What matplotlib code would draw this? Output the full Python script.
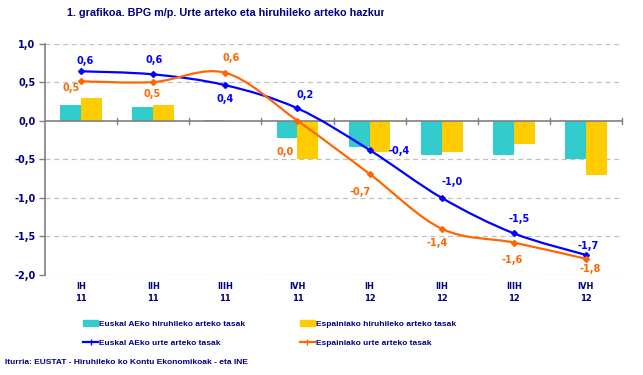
import matplotlib
matplotlib.use("Agg")
import matplotlib.pyplot as plt
import numpy as np
from matplotlib.path import Path
from matplotlib.patches import PathPatch, Patch
from matplotlib.lines import Line2D
from matplotlib.transforms import Bbox

# ---- data ----
quarters = ["IH", "IIH", "IIIH", "IVH", "IH", "IIH", "IIIH", "IVH"]
years = ["11", "11", "11", "11", "12", "12", "12", "12"]
eus_quarterly = [0.2, 0.18, 0.01, -0.23, -0.34, -0.44, -0.45, -0.5]
esp_quarterly = [0.3, 0.2, 0.0, -0.5, -0.4, -0.4, -0.3, -0.7]
eus_annual = [0.64, 0.6, 0.46, 0.16, -0.38, -1.0, -1.46, -1.74]
esp_annual = [0.51, 0.5, 0.62, 0.0, -0.69, -1.4, -1.58, -1.79]
eus_labels = ["0,6", "0,6", "0,4", "0,2", "-0,4", "-1,0", "-1,5", "-1,7"]
esp_labels = ["0,5", "0,5", "0,6", "0,0", "-0,7", "-1,4", "-1,6", "-1,8"]
yticks = [1.0, 0.5, 0.0, -0.5, -1.0, -1.5, -2.0]
ytick_labels = ["1,0", "0,5", "0,0", "-0,5", "-1,0", "-1,5", "-2,0"]

# label offsets in pixels (dx, dy; dy positive = down)
eus_off = [(4, -10), (1, -14), (0, 14), (8, -13), (30, 1), (10, -16), (5, -14), (2, -9)]
esp_off = [(-10, 7), (-1, 12), (6, -15), (-12, 31), (-9, 18), (-5, 14), (-2, 17), (4, 10)]

NAVY = "#000080"
CYAN = "#33CCCC"
YELLOW = "#FFCC00"
BLUE = "#0000FF"
ORANGE = "#FF6600"
FS = 7
NARROW = ['Liberation Sans', 'DejaVu Sans']

plt.rcParams['font.family'] = ['DejaVu Sans']
fig = plt.figure(figsize=(6.43, 3.75), dpi=100)
ax = fig.add_axes([45/643, 1-275/375, 577/643, (275-43.5)/375])

n = len(quarters)
x = np.arange(n)
w = 0.29
ax.bar(x - w/2, eus_quarterly, width=w, color=CYAN, zorder=2)
ax.bar(x + w/2, esp_quarterly, width=w, color=YELLOW, zorder=2)


def smooth_path(xs, ys):
    pts = np.column_stack([xs, ys]).astype(float)
    verts = [pts[0]]
    codes = [Path.MOVETO]
    m = len(pts)
    for i in range(m - 1):
        p0 = pts[i - 1] if i > 0 else pts[i]
        p1 = pts[i]
        p2 = pts[i + 1]
        p3 = pts[i + 2] if i + 2 < m else pts[i + 1]
        c1 = p1 + (p2 - p0) / 6.0
        c2 = p2 - (p3 - p1) / 6.0
        verts += [c1, c2, p2]
        codes += [Path.CURVE4] * 3
    return Path(verts, codes)


for ys, col in [(eus_annual, BLUE), (esp_annual, ORANGE)]:
    pp = PathPatch(smooth_path(x, ys), facecolor='none', edgecolor=col, lw=1.6,
                   transform=ax.transData, zorder=4)
    ax.add_patch(pp)
    ax.plot(x, ys, linestyle='none', marker='D', ms=3, color=col, zorder=5)

for i in range(n):
    ax.annotate(eus_labels[i], (x[i], eus_annual[i]), xytext=(eus_off[i][0], -eus_off[i][1]),
                textcoords='offset pixels', ha='center', va='center', fontsize=FS,
                fontweight='bold', color=BLUE, zorder=6)
    ax.annotate(esp_labels[i], (x[i], esp_annual[i]), xytext=(esp_off[i][0], -esp_off[i][1]),
                textcoords='offset pixels', ha='center', va='center', fontsize=FS,
                fontweight='bold', color=ORANGE, zorder=6)

ax.set_xlim(-0.5, n - 0.5)
ax.set_ylim(-2.0, 1.0)
ax.set_yticks(yticks)
ax.set_yticklabels(ytick_labels, fontsize=FS, fontweight='bold', color=NAVY)
ax.tick_params(axis='y', length=4, color='#808080', width=1, pad=3)
for yv in yticks:
    if yv != 0:
        ax.axhline(yv, color='#C0C0C0', lw=0.9, ls=(0, (4, 3)), zorder=1)
ax.axhline(0, color='#808080', lw=1.2, zorder=3)
for b in np.arange(-0.5, n, 1.0)[1:]:
    ax.plot([b, b], [-0.04, 0.04], color='#808080', lw=1.0, zorder=3, clip_on=False)

ax.set_xticks(x)
ax.set_xticklabels([f"{q}\n{yv}" for q, yv in zip(quarters, years)], fontsize=6,
                   fontweight='bold', color=NAVY, linespacing=1.5)
ax.tick_params(axis='x', length=0, pad=5)
for s in ['top', 'right', 'bottom']:
    ax.spines[s].set_visible(False)
ax.spines['left'].set_color('#808080')
ax.spines['left'].set_linewidth(1.2)

# title (clipped as in the original)
t = fig.text(67/643, 1-13/375, "1. grafikoa. BPG m/p. Urte arteko eta hiruhileko arteko hazkundea",
             fontsize=7.8, fontweight='bold', color=NAVY, ha='left', va='center',
             family=NARROW)
t.set_clip_box(Bbox.from_extents(0, 0, 384, 375))
t.set_clip_on(True)

handles = [Patch(color=CYAN),
           Line2D([], [], color=BLUE, lw=1.6, marker='|', ms=4),
           Patch(color=YELLOW),
           Line2D([], [], color=ORANGE, lw=1.6, marker='|', ms=4)]
labels = ["Euskal AEko hiruhileko arteko tasak", "Euskal AEko urte arteko tasak",
          "Espainiako hiruhileko arteko tasak", "Espainiako urte arteko tasak"]
leg = fig.legend(handles, labels, ncol=2, loc='upper left',
                 bbox_to_anchor=(83/643, 1-320/375), frameon=False, borderpad=0,
                 borderaxespad=0, handlelength=1.8, handletextpad=0.1,
                 columnspacing=6.6, labelspacing=1.35,
                 prop={'size': 6, 'weight': 'bold', 'family': NARROW})
for txt in leg.get_texts():
    txt.set_color(NAVY)

fig.text(5/643, 1-362/375, "Iturria: EUSTAT - Hiruhileko ko Kontu Ekonomikoak - eta INE",
         fontsize=6, fontweight='bold', color=NAVY, ha='left', va='center',
         family=NARROW)

fig.savefig("out.png", dpi=100)
